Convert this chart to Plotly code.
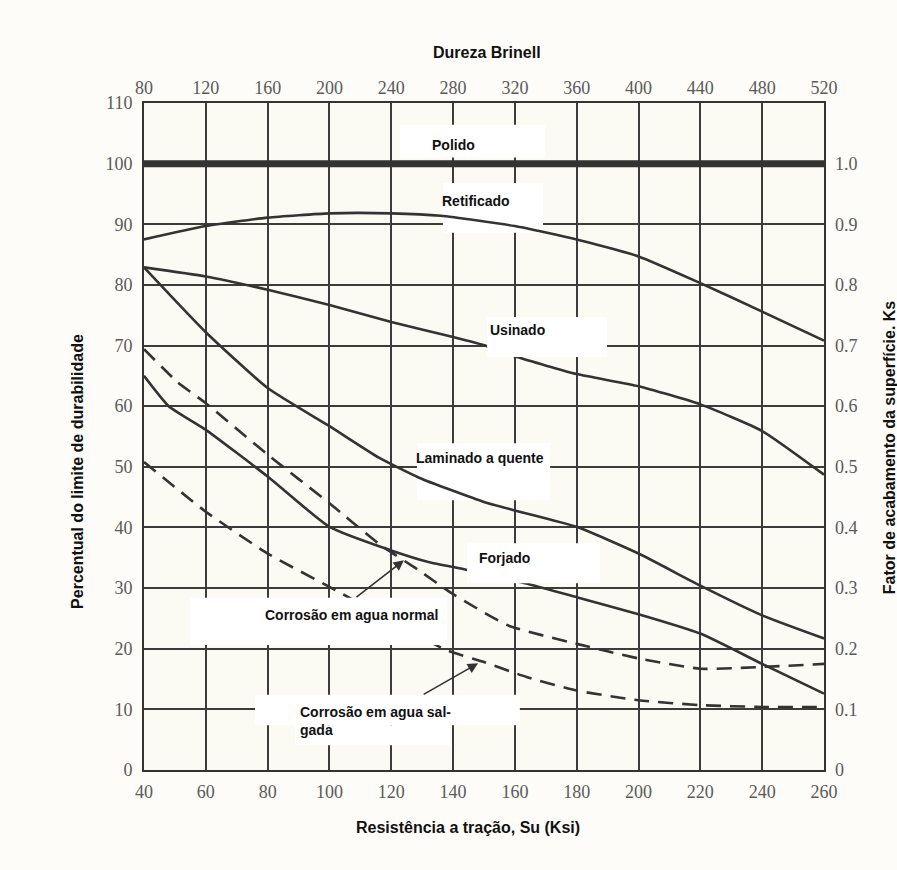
import plotly.graph_objects as go

# ---------------- data ----------------
su_polido = [40, 260]
y_polido = [100, 100]

su_retificado = [40, 60, 80, 100, 120, 136, 160, 180, 200, 220, 240, 260]
y_retificado = [87.5, 89.7, 91.1, 91.8, 91.8, 91.4, 89.7, 87.5, 84.7, 80.3, 75.6, 70.8]

su_usinado = [40, 60, 80, 100, 120, 140, 151, 160.7, 180, 200, 220, 240, 260]
y_usinado = [82.9, 81.4, 79.2, 76.7, 73.9, 71.4, 69.9, 68.1, 65.3, 63.3, 60.3, 55.9, 48.7]

su_laminado = [40, 60, 80, 100, 116, 129, 150, 160, 180, 200, 220, 240, 260]
y_laminado = [82.9, 72.2, 63.0, 56.7, 51.5, 48.2, 44.2, 42.8, 40.1, 35.7, 30.4, 25.5, 21.7]

su_forjado = [40, 48, 60, 80, 100, 120, 132, 144.5, 163.3, 180, 200, 220, 240, 260]
y_forjado = [65.0, 60.0, 56.1, 48.4, 40.1, 36.2, 34.3, 33.0, 30.8, 28.5, 25.7, 22.5, 17.5, 12.6]

su_normal = [40, 51, 60, 80, 100, 116, 129, 140, 158, 180, 200, 220, 240, 260]
y_normal = [69.4, 63.9, 60.5, 52.0, 44.0, 37.3, 32.9, 29.0, 23.8, 20.8, 18.4, 16.7, 17.0, 17.5]

su_salgada = [40, 60, 80, 100, 110, 137.7, 150, 164, 180, 200, 220, 240, 260]
y_salgada = [50.8, 42.6, 35.7, 30.2, 27.4, 19.8, 17.8, 15.3, 13.1, 11.5, 10.7, 10.4, 10.4]

su_ticks = [40, 60, 80, 100, 120, 140, 160, 180, 200, 220, 240, 260]
hb_ticks = [80, 120, 160, 200, 240, 280, 320, 360, 400, 440, 480, 520]
pct_ticks = [0, 10, 20, 30, 40, 50, 60, 70, 80, 90, 100, 110]
ks_ticks = [0, 0.1, 0.2, 0.3, 0.4, 0.5, 0.6, 0.7, 0.8, 0.9, 1.0]
ks_labels = ["0", "0.1", "0.2", "0.3", "0.4", "0.5", "0.6", "0.7", "0.8", "0.9", "1.0"]

# ---------------- styles ----------------
INK = "#333333"
GRID = "#3c3c3c"
TICKFONT = dict(family="Liberation Serif, DejaVu Serif, serif", size=18, color="#5a5a5a")
LABFONT = dict(family="Liberation Sans, Arial, sans-serif", size=14, color="#111111")
TITLEFONT = dict(family="Liberation Sans, Arial, sans-serif", size=16, color="#111111")

fig = go.Figure()

def solid(x, y, name, w=2.6):
    fig.add_trace(go.Scatter(x=x, y=y, mode="lines", name=name,
                             line=dict(color=INK, width=w, shape="spline", smoothing=0.5),
                             hoverinfo="skip", showlegend=False))

def dashed(x, y, name):
    fig.add_trace(go.Scatter(x=x, y=y, mode="lines", name=name,
                             line=dict(color=INK, width=2.6, dash="15px,9px", shape="spline", smoothing=0.5),
                             hoverinfo="skip", showlegend=False))

solid(su_polido, y_polido, "Polido", w=7)
solid(su_retificado, y_retificado, "Retificado")
solid(su_usinado, y_usinado, "Usinado")
solid(su_laminado, y_laminado, "Laminado a quente")
solid(su_forjado, y_forjado, "Forjado")
dashed(su_normal, y_normal, "Corrosão em agua normal")
dashed(su_salgada, y_salgada, "Corrosão em agua salgada")

# dummy traces to activate secondary axes
fig.add_trace(go.Scatter(x=[hb_ticks[0], hb_ticks[-1]], y=[None, None], xaxis="x2", yaxis="y",
                         mode="lines", showlegend=False, hoverinfo="skip"))
fig.add_trace(go.Scatter(x=[None, None], y=[ks_ticks[0], ks_ticks[-1]], xaxis="x", yaxis="y2",
                         mode="lines", showlegend=False, hoverinfo="skip"))

# white label boxes (as pasted over the scanned chart)
boxes = [
    # (x0, x1, y0, y1, layer)
    (122.8, 169.7, 101.0, 106.4, "between"),   # Polido
    (136.7, 169.1, 88.6, 96.8, "between"),     # Retificado
    (151.0, 189.8, 68.1, 74.7, "above"),       # Usinado
    (128.3, 171.4, 44.5, 53.9, "between"),     # Laminado a quente
    (144.5, 187.5, 30.8, 37.4, "above"),       # Forjado
    (54.9, 138.0, 20.6, 28.4, "above"),        # Corrosão normal
    (75.9, 161.6, 7.4, 12.4, "between"),       # Corrosão salgada
    (88.9, 139.0, 4.1, 7.4, "between"),
]
shapes = []
for x0, x1, y0, y1, layer in boxes:
    shapes.append(dict(type="rect", xref="x", yref="y", x0=x0, x1=x1, y0=y0, y1=y1,
                       fillcolor="white", line=dict(width=0), layer=layer))

labels = [
    ("Polido", 140.0, 103.1, "center"),
    ("Retificado", 147.4, 93.8, "center"),
    ("Usinado", 160.7, 72.6, "center"),
    ("Laminado a quente", 148.7, 51.5, "center"),
    ("Forjado", 156.5, 35.0, "center"),
    ("Corrosão em agua normal", 107.3, 25.6, "center"),
]
annotations = []
for t, x, y, anc in labels:
    annotations.append(dict(text="<b>" + t + "</b>", x=x, y=y, xref="x", yref="y", showarrow=False,
                            font=LABFONT, xanchor=anc, yanchor="middle"))
annotations.append(dict(text="<b>Corrosão em agua sal-<br>gada</b>", x=89.8, y=8.1, xref="x", yref="y",
                        showarrow=False, font=LABFONT, xanchor="left", yanchor="middle", align="left"))
# arrows
annotations.append(dict(text="", x=124.1, y=34.6, xref="x", yref="y", showarrow=True,
                        ax=-49, ay=38, arrowhead=2, arrowsize=1.3, arrowwidth=1.6, arrowcolor=INK))
annotations.append(dict(text="", x=148.1, y=17.6, xref="x", yref="y", showarrow=True,
                        ax=-56, ay=32, arrowhead=2, arrowsize=1.3, arrowwidth=1.6, arrowcolor=INK))
# axis titles
annotations += [
    dict(text="<b>Dureza Brinell</b>", xref="paper", yref="paper", x=0.504, y=1.076,
         showarrow=False, font=TITLEFONT, xanchor="center", yanchor="middle"),
    dict(text="<b>Resistência a tração, Su (Ksi)</b>", xref="paper", yref="paper", x=0.476, y=-0.0855,
         showarrow=False, font=TITLEFONT, xanchor="center", yanchor="middle"),
    dict(text="<b>Percentual do limite de durabilidade</b>", xref="paper", yref="paper", x=-0.097, y=0.447,
         showarrow=False, font=TITLEFONT, textangle=-90, xanchor="center", yanchor="middle"),
    dict(text="<b>Fator de acabamento da superfície. Ks</b>", xref="paper", yref="paper", x=1.0956, y=0.484,
         showarrow=False, font=TITLEFONT, textangle=-90, xanchor="center", yanchor="middle"),
]

fig.update_layout(
    width=897, height=870,
    margin=dict(l=144, r=73, t=103, b=100),
    paper_bgcolor="#fdfcf8",
    plot_bgcolor="#fbfaf3",
    shapes=shapes,
    annotations=annotations,
    xaxis=dict(range=[40, 260], tickvals=su_ticks, ticktext=[str(v) for v in su_ticks],
               showgrid=True, gridcolor=GRID, gridwidth=1.5, zeroline=False,
               showline=True, linecolor=INK, linewidth=2, mirror=True,
               ticks="", tickfont=TICKFONT, ticklabelstandoff=4),
    xaxis2=dict(range=[80, 520], tickvals=hb_ticks, ticktext=[str(v) for v in hb_ticks],
                overlaying="x", side="top", anchor="y", showgrid=False, zeroline=False,
                ticks="", tickfont=TICKFONT, ticklabelstandoff=4),
    yaxis=dict(range=[0, 110], tickvals=pct_ticks, ticktext=[str(v) for v in pct_ticks],
               showgrid=True, gridcolor=GRID, gridwidth=1.5, zeroline=False,
               showline=True, linecolor=INK, linewidth=2, mirror=True,
               ticks="", tickfont=TICKFONT, ticklabelstandoff=6),
    yaxis2=dict(range=[0, 1.1], tickvals=ks_ticks, ticktext=ks_labels,
                overlaying="y", side="right", anchor="x", showgrid=False, zeroline=False,
                ticks="", tickfont=TICKFONT, ticklabelstandoff=10),
)

fig.write_html("out.html", config={"displayModeBar": False},
               post_script="document.body.style.margin='0';")
